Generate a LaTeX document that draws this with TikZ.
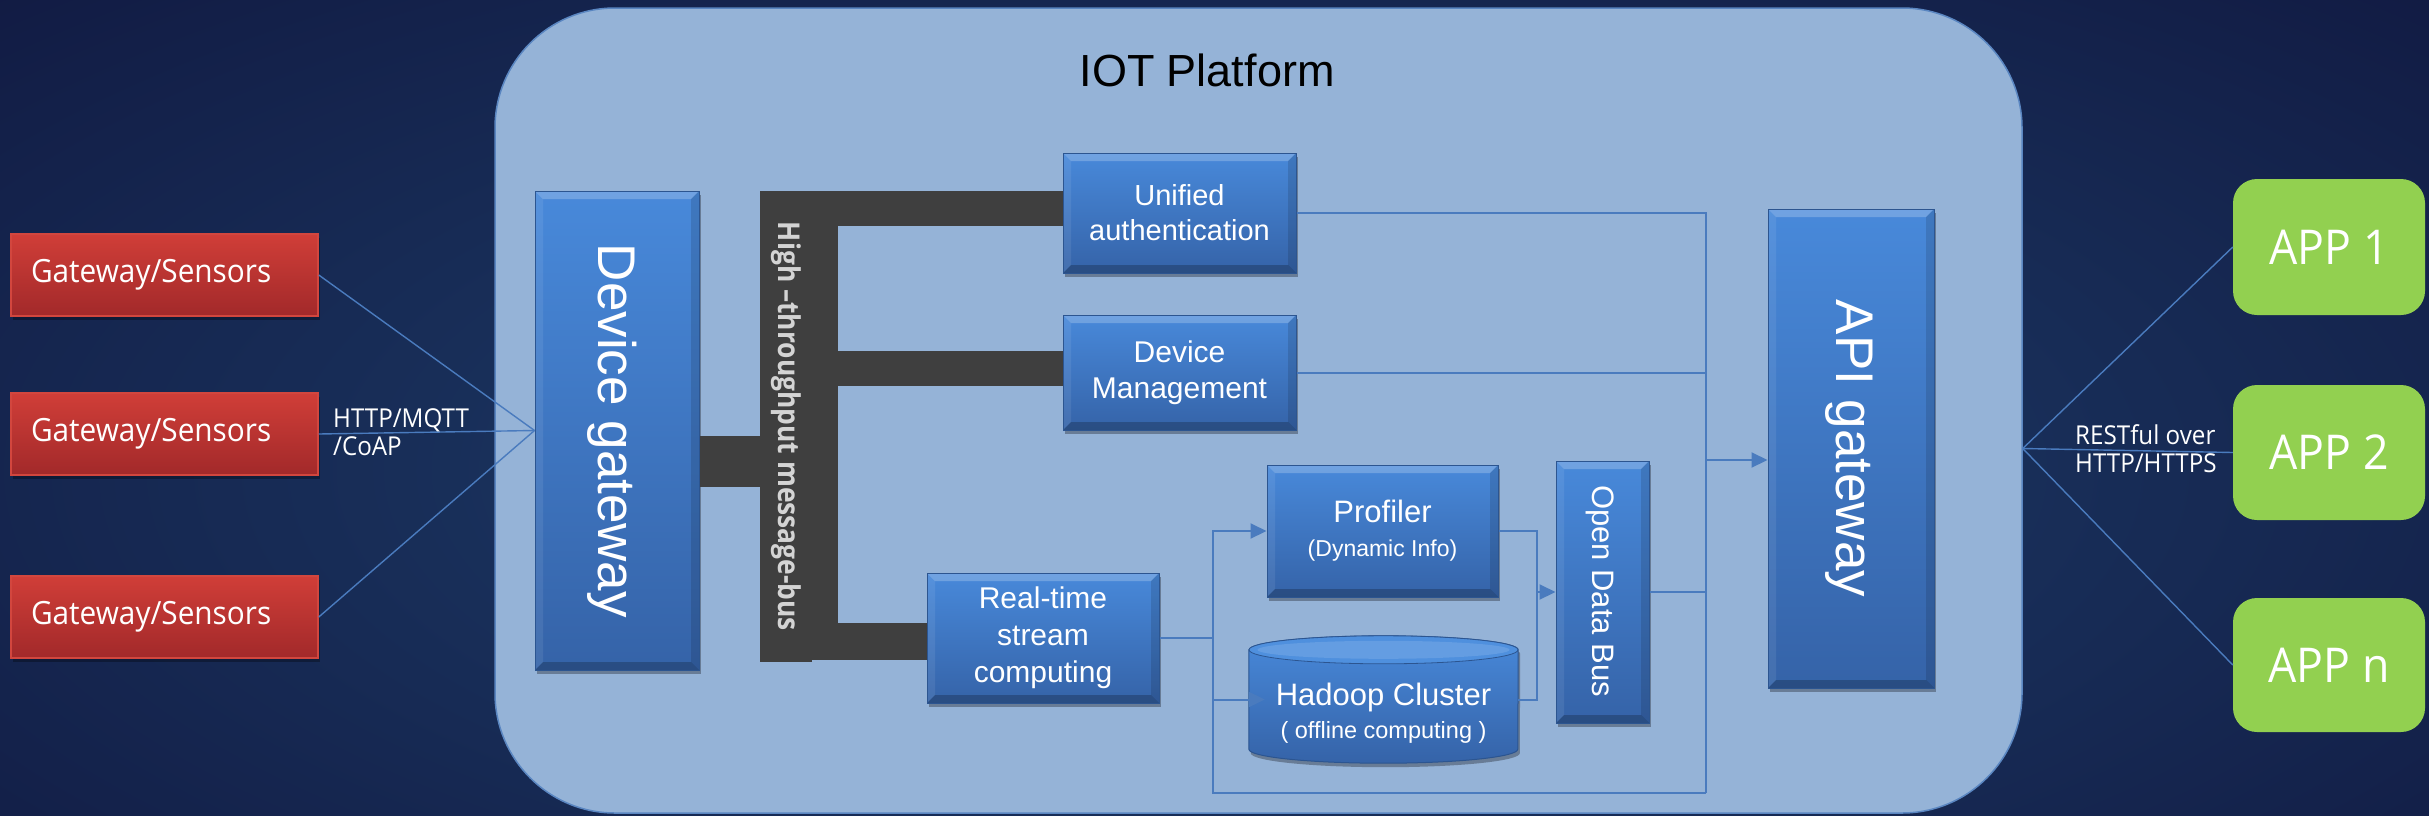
\documentclass[tikz,border=0pt]{standalone}
\usepackage{fontspec}
\setmainfont{Liberation Sans}
\newfontfamily\uifont[FakeStretch=0.93]{Open Sans}
\newfontfamily\busfont[FakeStretch=0.88]{Open Sans}
\usetikzlibrary{arrows.meta,shadows,calc}

\definecolor{bgouter}{HTML}{10173F}
\definecolor{bgglow}{HTML}{1E3F6B}
\definecolor{platfill}{HTML}{95B3D7}
\definecolor{platedge}{HTML}{5A86C1}
\definecolor{boxtop}{HTML}{4889DA}
\definecolor{boxbot}{HTML}{3563A8}
\definecolor{boxedge}{HTML}{2C5590}
\definecolor{captop}{HTML}{4F90DE}
\definecolor{redtop}{HTML}{D03E38}
\definecolor{redbot}{HTML}{A2292A}
\definecolor{rededge}{HTML}{D2463E}
\definecolor{appgreen}{HTML}{92D050}
\definecolor{busgray}{HTML}{3F3F3F}
\definecolor{bustext}{HTML}{D4D4D4}
\definecolor{wireblue}{HTML}{4A7BBE}

\tikzset{
  bevelled/.style={path picture={
    \fill[white,opacity=0.22]
      (path picture bounding box.north west) -- (path picture bounding box.north east)
      -- ([xshift=-8pt,yshift=-8pt]path picture bounding box.north east)
      -- ([xshift=8pt,yshift=-8pt]path picture bounding box.north west) -- cycle;
    \fill[white,opacity=0.08]
      (path picture bounding box.north west) -- ([xshift=8pt,yshift=-8pt]path picture bounding box.north west)
      -- ([xshift=8pt,yshift=8pt]path picture bounding box.south west)
      -- (path picture bounding box.south west) -- cycle;
    \fill[black,opacity=0.12]
      (path picture bounding box.north east) -- ([xshift=-8pt,yshift=-8pt]path picture bounding box.north east)
      -- ([xshift=-8pt,yshift=8pt]path picture bounding box.south east)
      -- (path picture bounding box.south east) -- cycle;
    \fill[black,opacity=0.22]
      (path picture bounding box.south west) -- (path picture bounding box.south east)
      -- ([xshift=-8pt,yshift=8pt]path picture bounding box.south east)
      -- ([xshift=8pt,yshift=8pt]path picture bounding box.south west) -- cycle;
  }},
  softshadow/.style={drop shadow={shadow xshift=2pt, shadow yshift=-4pt, opacity=0.3, fill=black}},
  bluebox/.style={rectangle, inner sep=0pt, draw=boxedge, line width=1pt,
    top color=boxtop, bottom color=boxbot, bevelled, softshadow,
    text=white, align=center},
  redbox/.style={rectangle, minimum width=307pt, minimum height=82pt,
    inner xsep=20pt, inner ysep=0pt, text width=267pt, align=left,
    top color=redtop, bottom color=redbot, draw=rededge, line width=1.5pt,
    softshadow, text=white, font=\uifont\fontsize{32}{38}\selectfont},
  appbox/.style={rectangle, fill=appgreen, rounded corners=24pt,
    minimum width=192pt, inner sep=0pt, text=white,
    font=\uifont\fontsize{48}{56}\selectfont},
  vtext/.style={rotate=-90, text=white, inner sep=0pt},
  smalllabel/.style={text=white, align=left, anchor=west, inner sep=0pt,
    font=\uifont\fontsize{26}{28}\selectfont},
  wire/.style={draw=wireblue, line width=2pt},
  wirearrow/.style={wire, -{Triangle[length=16pt,width=15pt]}},
  fanwire/.style={draw=wireblue, line width=1.4pt},
}

\begin{document}
\begin{tikzpicture}[x=1pt,y=-1pt]
\useasboundingbox (0,0) rectangle (2429,815);

% night-blue backdrop with a soft glow across the middle
\begin{scope}
  \clip (0,0) rectangle (2429,815);
  \fill[bgouter] (0,0) rectangle (2429,815);
  \fill[inner color=bgglow, outer color=bgouter] (1215,470) ellipse[x radius=1900, y radius=760];
\end{scope}

% the platform panel
\node[draw=platedge, line width=1.5pt, fill=platfill, rounded corners=120pt,
      minimum width=1527pt, minimum height=805pt, inner sep=0pt] (plat) at (1258.5,410.5) {};
\node[font=\fontsize{45}{54}\selectfont, text=black] (title) at (1207,70) {IOT Platform};

% message bus: labelled bar, spine and arms
\node[fill=busgray, rotate=-90, minimum width=471pt, minimum height=52pt, inner sep=0pt,
      text=bustext, font=\busfont\bfseries\fontsize{30}{36}\selectfont] (bus) at (786,426.5)
      {High –throughput message-bus};

% device side
\node[bluebox, minimum width=164pt, minimum height=479pt] (dg) at (617,430.5) {};
\node[vtext, font=\fontsize{53}{60}\selectfont] (dgt) at (612,431) {Device gateway};

% service boxes
\node[bluebox, minimum width=233pt, minimum height=120pt, font=\fontsize{29}{35}\selectfont]
  (ua) at (1179.5,213) {Unified\\authentication};
\node[bluebox, minimum width=233pt, minimum height=115pt, font=\fontsize{30}{36}\selectfont]
  (dm) at (1179.5,372.5) {Device\\Management};
\node[bluebox, minimum width=232pt, minimum height=130pt, font=\fontsize{30}{37}\selectfont]
  (rt) at (1043,638) {Real-time\\stream\\computing};

\fill[busgray] (bus.north |- 0,191) rectangle (838,660);
\fill[busgray] (838,191) rectangle (ua.west |- 0,226);
\fill[busgray] (838,351) rectangle (dm.west |- 0,386);
\fill[busgray] (838,623) rectangle (rt.west |- 0,660);
\fill[busgray] (dg.east |- 0,436) rectangle (bus.south |- 0,487);

\node[bluebox, minimum width=231pt, minimum height=132pt, font=\fontsize{31}{36}\selectfont]
  (prof) at (1382.5,531) {Profiler\\[-2pt]{\fontsize{23}{28}\selectfont (Dynamic Info)}};

% Hadoop storage drum
\node[inner sep=0pt, minimum width=269pt, minimum height=127pt] (hadoop) at (1383.5,699.5) {};
\path[top color=boxtop, bottom color=boxbot, draw=boxedge, line width=1pt, softshadow]
  ($(hadoop.north west)+(0,14)$) -- ($(hadoop.south west)+(0,-14)$)
  arc[start angle=180, end angle=0, x radius=134.5, y radius=14]
  -- ($(hadoop.north east)+(0,14)$)
  arc[start angle=0, end angle=-180, x radius=134.5, y radius=14] -- cycle;
\fill[captop, draw=boxedge, line width=0.8pt] ($(hadoop.north)+(0,14)$) ellipse[x radius=134.5, y radius=14];
\fill[white, opacity=0.12] ($(hadoop.north)+(0,14)$) ellipse[x radius=126, y radius=9];
\node[text=white, align=center, font=\fontsize{31}{36}\selectfont] (hadoopt) at (1383.5,713)
  {Hadoop Cluster\\[-3pt]{\fontsize{23.5}{28}\selectfont ( offline computing )}};

\node[bluebox, minimum width=93pt, minimum height=262pt] (odb) at (1602.5,592) {};
\node[vtext, font=\fontsize{31}{36}\selectfont] (odbt) at (1600,591) {Open Data Bus};

\node[bluebox, minimum width=166pt, minimum height=479pt] (api) at (1851,448.5) {};
\node[vtext, font=\fontsize{53}{60}\selectfont] (apit) at (1849,448.5) {API gateway};

% field devices and client apps
\node[redbox] (s1) at (164.5,275) {Gateway/Sensors};
\node[redbox] (s2) at (164.5,434) {Gateway/Sensors};
\node[redbox] (s3) at (164.5,617) {Gateway/Sensors};

\node[appbox, minimum height=136pt] (app1) at (2329,247) {APP 1};
\node[appbox, minimum height=135pt] (app2) at (2329,452.5) {APP 2};
\node[appbox, minimum height=134pt] (appn) at (2329,665) {APP n};

% routing points
\coordinate (lx) at (1213,793);
\coordinate (vx) at (1706,793);
\coordinate (px) at (1537,593);
\coordinate (jn) at (1706,460);
\coordinate (fan) at (plat.east |- api.west);

% device links
\draw[fanwire] (s1.east) -- (dg.west);
\draw[fanwire] (s2.east) -- (dg.west);
\draw[fanwire] (s3.east) -- (dg.west);
\node[smalllabel] (proto) at (333,432) {HTTP/MQTT\\/CoAP};

% internal flows
\draw[wire] (ua.east) -| (vx);
\draw[wire] (dm.east) -- (dm.east -| vx);
\draw[wirearrow] (rt.east) -- (rt.east -| lx) |- (prof.west);
\draw[wire] (rt.east -| lx) -- (lx) -- (vx);
\draw[wirearrow] (lx |- hadoop.west) -- ([xshift=16pt]hadoop.west);
\draw[wire] (prof.east) -| (px) |- (hadoop.east);
\draw[wirearrow] (px |- odb.west) -- (odb.west);
\draw[wire] (odb.east) -- (odb.east -| vx);
\draw[wirearrow] (jn) -- (jn -| api.west);

% app links
\draw[fanwire] (fan) -- (app1.west);
\draw[fanwire] (fan) -- (app2.west);
\draw[fanwire] (fan) -- (appn.west);
\node[smalllabel] (rest) at (2075,449) {RESTful over\\HTTP/HTTPS};
\end{tikzpicture}
\end{document}
